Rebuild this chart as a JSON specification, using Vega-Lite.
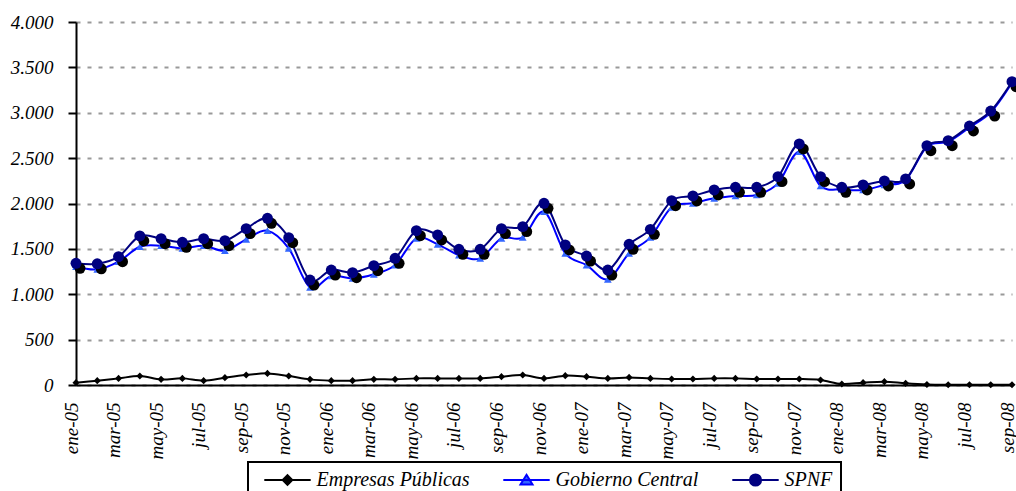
{
  "$schema": "https://vega.github.io/schema/vega-lite/v6.json",
  "width": 936,
  "height": 363,
  "autosize": "none",
  "padding": {"left": 76, "top": 22, "right": 4, "bottom": 106},
  "background": "white",
  "config": {"view": {"stroke": null}, "font": "Times New Roman, Liberation Serif, serif"},
  "data": {"values": [
    {"mes": "ene-05", "Empresas Públicas": 26, "Gobierno Central": 1304, "SPNF": 1341},
    {"mes": "feb-05", "Empresas Públicas": 48, "Gobierno Central": 1275, "SPNF": 1335},
    {"mes": "mar-05", "Empresas Públicas": 73, "Gobierno Central": 1359, "SPNF": 1414},
    {"mes": "abr-05", "Empresas Públicas": 99, "Gobierno Central": 1524, "SPNF": 1642},
    {"mes": "may-05", "Empresas Públicas": 62, "Gobierno Central": 1535, "SPNF": 1612},
    {"mes": "jun-05", "Empresas Públicas": 73, "Gobierno Central": 1506, "SPNF": 1572},
    {"mes": "jul-05", "Empresas Públicas": 48, "Gobierno Central": 1535, "SPNF": 1612},
    {"mes": "ago-05", "Empresas Públicas": 81, "Gobierno Central": 1480, "SPNF": 1590},
    {"mes": "sep-05", "Empresas Públicas": 110, "Gobierno Central": 1605, "SPNF": 1723},
    {"mes": "oct-05", "Empresas Públicas": 128, "Gobierno Central": 1700, "SPNF": 1837},
    {"mes": "nov-05", "Empresas Públicas": 99, "Gobierno Central": 1506, "SPNF": 1623},
    {"mes": "dic-05", "Empresas Públicas": 62, "Gobierno Central": 1076, "SPNF": 1157},
    {"mes": "ene-06", "Empresas Públicas": 48, "Gobierno Central": 1201, "SPNF": 1267},
    {"mes": "feb-06", "Empresas Públicas": 48, "Gobierno Central": 1175, "SPNF": 1238},
    {"mes": "mar-06", "Empresas Públicas": 62, "Gobierno Central": 1220, "SPNF": 1315},
    {"mes": "abr-06", "Empresas Públicas": 62, "Gobierno Central": 1322, "SPNF": 1396},
    {"mes": "may-06", "Empresas Públicas": 73, "Gobierno Central": 1616, "SPNF": 1700},
    {"mes": "jun-06", "Empresas Públicas": 73, "Gobierno Central": 1550, "SPNF": 1653},
    {"mes": "jul-06", "Empresas Públicas": 73, "Gobierno Central": 1432, "SPNF": 1495},
    {"mes": "ago-06", "Empresas Públicas": 73, "Gobierno Central": 1396, "SPNF": 1495},
    {"mes": "sep-06", "Empresas Públicas": 92, "Gobierno Central": 1616, "SPNF": 1723},
    {"mes": "oct-06", "Empresas Públicas": 110, "Gobierno Central": 1627, "SPNF": 1745},
    {"mes": "nov-06", "Empresas Públicas": 73, "Gobierno Central": 1910, "SPNF": 2002},
    {"mes": "dic-06", "Empresas Públicas": 103, "Gobierno Central": 1451, "SPNF": 1543},
    {"mes": "ene-07", "Empresas Públicas": 92, "Gobierno Central": 1322, "SPNF": 1421},
    {"mes": "feb-07", "Empresas Públicas": 73, "Gobierno Central": 1165, "SPNF": 1267},
    {"mes": "mar-07", "Empresas Públicas": 84, "Gobierno Central": 1451, "SPNF": 1550},
    {"mes": "abr-07", "Empresas Públicas": 73, "Gobierno Central": 1627, "SPNF": 1715},
    {"mes": "may-07", "Empresas Públicas": 66, "Gobierno Central": 1958, "SPNF": 2031},
    {"mes": "jun-07", "Empresas Públicas": 66, "Gobierno Central": 2002, "SPNF": 2083},
    {"mes": "jul-07", "Empresas Públicas": 73, "Gobierno Central": 2057, "SPNF": 2149},
    {"mes": "ago-07", "Empresas Públicas": 73, "Gobierno Central": 2083, "SPNF": 2178},
    {"mes": "sep-07", "Empresas Públicas": 66, "Gobierno Central": 2094, "SPNF": 2178},
    {"mes": "oct-07", "Empresas Públicas": 66, "Gobierno Central": 2222, "SPNF": 2296},
    {"mes": "nov-07", "Empresas Públicas": 66, "Gobierno Central": 2571, "SPNF": 2656},
    {"mes": "dic-07", "Empresas Públicas": 55, "Gobierno Central": 2193, "SPNF": 2296},
    {"mes": "ene-08", "Empresas Públicas": 11, "Gobierno Central": 2156, "SPNF": 2178},
    {"mes": "feb-08", "Empresas Públicas": 26, "Gobierno Central": 2149, "SPNF": 2204},
    {"mes": "mar-08", "Empresas Públicas": 37, "Gobierno Central": 2204, "SPNF": 2248},
    {"mes": "abr-08", "Empresas Públicas": 18, "Gobierno Central": 2259, "SPNF": 2270},
    {"mes": "may-08", "Empresas Públicas": 5, "Gobierno Central": 2626, "SPNF": 2637},
    {"mes": "jun-08", "Empresas Públicas": 2, "Gobierno Central": 2681, "SPNF": 2692},
    {"mes": "jul-08", "Empresas Públicas": 3, "Gobierno Central": 2839, "SPNF": 2854},
    {"mes": "ago-08", "Empresas Públicas": 2, "Gobierno Central": 3004, "SPNF": 3019},
    {"mes": "sep-08", "Empresas Públicas": 3, "Gobierno Central": 3331, "SPNF": 3342}
  ]},
  "transform": [{"fold": ["Empresas Públicas", "Gobierno Central", "SPNF"], "as": ["serie", "valor"]}],
  "encoding": {
    "x": {
      "field": "mes", "type": "ordinal", "sort": null,
      "scale": {"type": "point", "padding": 0},
      "axis": {
        "title": null,
        "values": ["ene-05","mar-05","may-05","jul-05","sep-05","nov-05","ene-06","mar-06","may-06","jul-06","sep-06","nov-06","ene-07","mar-07","may-07","jul-07","sep-07","nov-07","ene-08","mar-08","may-08","jul-08","sep-08"],
        "labelAngle": -90, "labelAlign": "right", "labelBaseline": "middle",
        "labelPadding": 17, "labelOffset": -5, "ticks": false,
        "domainColor": "black", "domainWidth": 2,
        "labelFont": "Times New Roman, Liberation Serif, serif", "labelFontStyle": "italic", "labelFontSize": 19, "labelColor": "black",
        "grid": false
      }
    },
    "y": {
      "field": "valor", "type": "quantitative",
      "scale": {"domain": [0, 4000], "nice": false},
      "axis": {
        "title": null,
        "values": [0, 500, 1000, 1500, 2000, 2500, 3000, 3500, 4000],
        "labelExpr": "replace(format(datum.value, ','), ',', '.')",
        "domainColor": "black", "domainWidth": 2,
        "tickColor": "black", "tickWidth": 2, "tickSize": 8,
        "labelPadding": 15,
        "labelFont": "Times New Roman, Liberation Serif, serif", "labelFontStyle": "italic", "labelFontSize": 19, "labelColor": "black",
        "grid": true, "gridColor": "#999999", "gridDash": [4, 7], "gridWidth": 2
      }
    }
  },
  "layer": [
    {
      "mark": {"type": "line", "interpolate": "cardinal", "strokeWidth": 2},
      "encoding": {
        "color": {
          "field": "serie", "type": "nominal",
          "scale": {"domain": ["Empresas Públicas", "Gobierno Central", "SPNF"], "range": ["#000000", "#0000ff", "#000080"]},
          "legend": {
            "orient": "none", "legendX": 172, "legendY": 440,
            "direction": "horizontal", "title": null,
            "strokeColor": "black", "fillColor": "white",
            "padding": 8, "symbolSize": 256, "symbolOffset": 21.5, "labelOffset": 19, "columnPadding": 25,
            "labelFont": "Times New Roman, Liberation Serif, serif", "labelFontStyle": "italic", "labelFontSize": 20, "labelColor": "black",
            "encode": {
              "legend": {"update": {"strokeWidth": {"value": 2}}},
              "symbols": {"update": {
                "shape": {"signal": "datum.value === 'SPNF' ? 'M-2.9,0H2.9M0.7,0A0.7,0.7 0 1 1 -0.7,0A0.7,0.7 0 1 1 0.7,0Z' : datum.value === 'Gobierno Central' ? 'M-2.9,0H2.9M0,-0.65L0.75,0.55L-0.75,0.55Z' : 'M-2.9,0H2.9M0,-0.6L0.6,0L0,0.6L-0.6,0Z'"},
                "fill": {"signal": "datum.value === 'SPNF' ? '#000080' : datum.value === 'Gobierno Central' ? '#3366ff' : '#000000'"},
                "stroke": {"signal": "datum.value === 'SPNF' ? '#000080' : datum.value === 'Gobierno Central' ? '#0000ff' : '#000000'"},
                "strokeWidth": {"value": 2},
                "opacity": {"value": 1}
              }}
            }
          }
        }
      }
    },
    {
      "transform": [{"filter": "datum.serie === 'Empresas Públicas'"}],
      "mark": {"type": "point", "filled": true, "shape": "diamond", "size": 50, "color": "#000000", "opacity": 1}
    },
    {
      "transform": [{"filter": "datum.serie === 'Gobierno Central'"}],
      "mark": {"type": "point", "filled": true, "shape": "triangle-up", "size": 60, "color": "#3366ff", "opacity": 1}
    },
    {
      "transform": [{"filter": "datum.serie === 'SPNF'"}],
      "mark": {"type": "point", "filled": true, "shape": "circle", "size": 120, "color": "black", "opacity": 1, "xOffset": 4, "yOffset": 5}
    },
    {
      "transform": [{"filter": "datum.serie === 'SPNF'"}],
      "mark": {"type": "point", "filled": true, "shape": "circle", "size": 120, "color": "#000080", "opacity": 1}
    }
  ]
}
